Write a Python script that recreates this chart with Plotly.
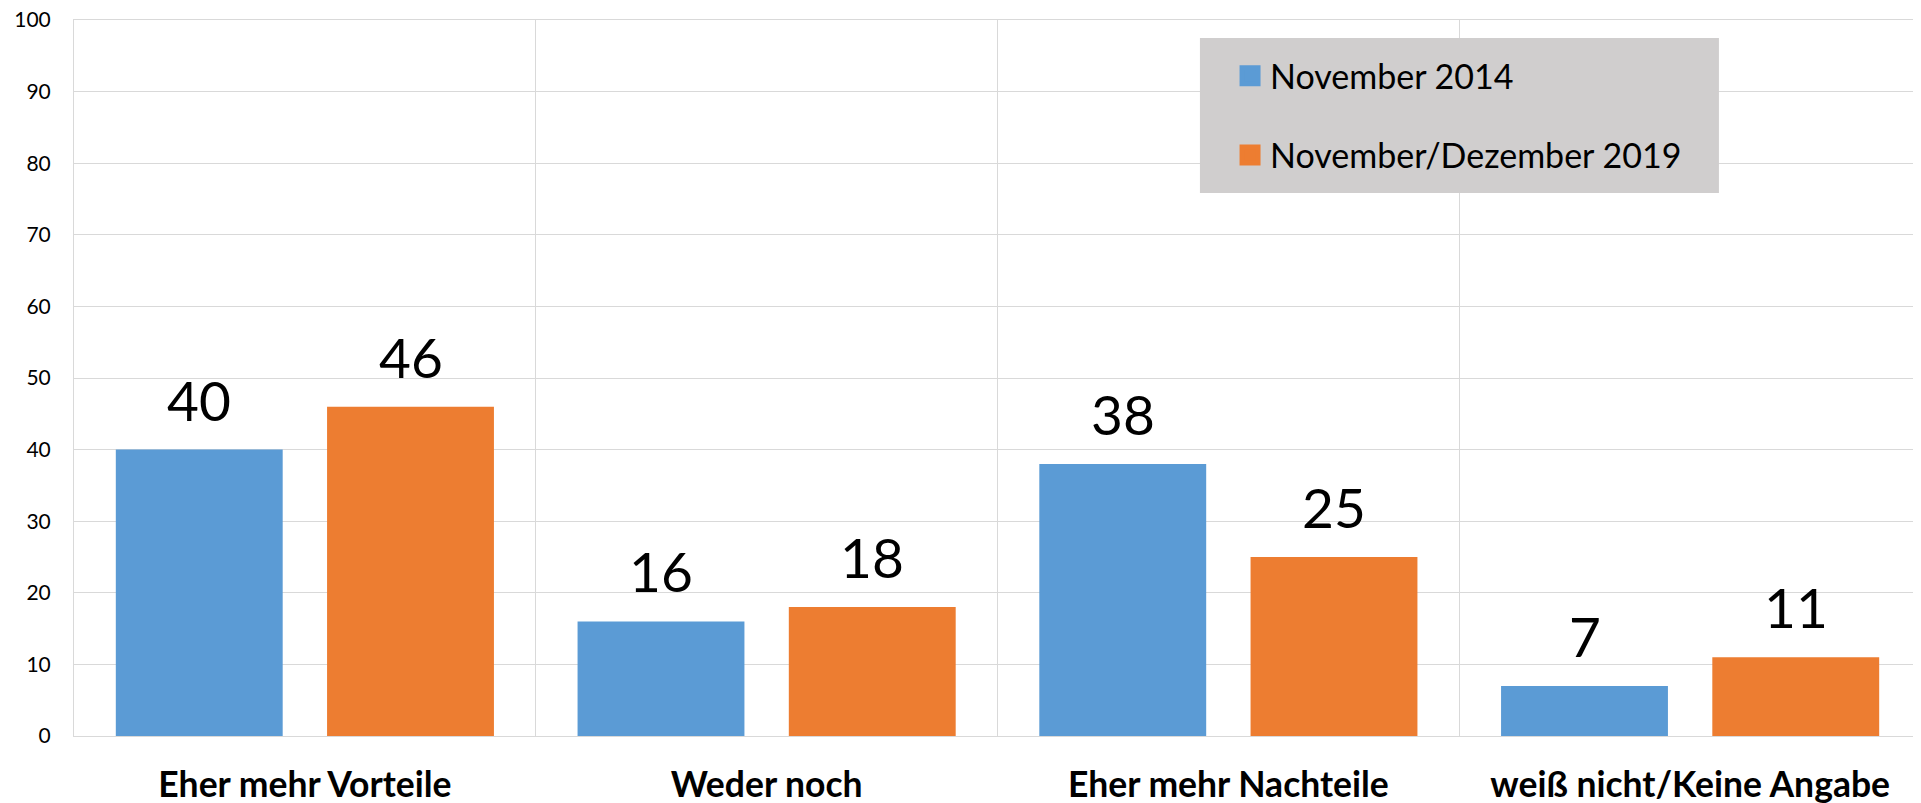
import plotly.graph_objects as go

categories = ["Eher mehr Vorteile", "Weder noch", "Eher mehr Nachteile", "weiß nicht/Keine Angabe"]
series_names = ["November 2014", "November/Dezember 2019"]
values_2014 = [40, 16, 38, 7]
values_2019 = [46, 18, 25, 11]
colors = ["#5B9BD5", "#ED7D31"]
y_ticks = [0, 10, 20, 30, 40, 50, 60, 70, 80, 90, 100]

FONT = "Lato"
GRID = "#D9D9D9"

# figure geometry (page body has an 8px margin)
FIG_W, FIG_H = 1913, 795
M_L, M_R, M_T, M_B = 66, 0, 12, 67
BARGAP, BARGROUPGAP = 0.085, 0.21

plot_w = FIG_W - M_L - M_R
cat_w = plot_w / len(categories)
slot_shift = cat_w * (1 - BARGAP) / 4  # px offset of each series' bar centre

fig = go.Figure()
annotations = []
for i, (name, vals, col) in enumerate(zip(series_names, [values_2014, values_2019], colors)):
    fig.add_trace(go.Bar(
        x=categories, y=vals, name=name,
        marker=dict(color=col, line=dict(width=0)),
        showlegend=False,
    ))
    # legend entry with a larger square swatch
    fig.add_trace(go.Scatter(
        x=[None], y=[None], mode="markers", name=name,
        legendgroup=name,
        marker=dict(symbol="square", size=16, color=col, line=dict(color=col, width=5)),
        showlegend=True,
    ))
    shift = -slot_shift if i == 0 else slot_shift
    for c, v in zip(categories, vals):
        annotations.append(dict(
            x=c, y=v, xref="x", yref="y", text=str(v), showarrow=False,
            xanchor="center", yanchor="bottom", xshift=shift, yshift=15,
            font=dict(family=FONT, size=55, color="#000000"),
        ))

fig.update_layout(
    width=FIG_W, height=FIG_H,
    margin=dict(l=M_L, r=M_R, t=M_T, b=M_B, autoexpand=False),
    paper_bgcolor="white", plot_bgcolor="white",
    barmode="group", bargap=BARGAP, bargroupgap=BARGROUPGAP,
    font=dict(family=FONT, color="#000000"),
    legend=dict(
        x=0.6259, y=0.962, xanchor="left", yanchor="top",
        bgcolor="rgba(0,0,0,0)", borderwidth=0,
        font=dict(family=FONT, size=34, color="#000000"),
        traceorder="grouped", tracegroupgap=32,
    ),
    shapes=[dict(
        type="rect", xref="paper", yref="paper",
        x0=0.6096, x1=0.8906, y0=0.7584, y1=0.9749,
        fillcolor="#D0CECE", line=dict(width=0), layer="above",
    )],
    annotations=annotations,
)
fig.update_xaxes(
    type="category", tickson="boundaries", automargin=False,
    showgrid=True, gridcolor=GRID, gridwidth=1,
    showline=True, linecolor=GRID, linewidth=1, mirror=True,
    ticks="",
    tickfont=dict(family=FONT, size=35.5, color="#000000", weight="bold"),
    ticklabelstandoff=17,
)
fig.update_yaxes(
    range=[0, 100], tickvals=y_ticks, automargin=False,
    showgrid=True, gridcolor=GRID, gridwidth=1,
    zeroline=True, zerolinecolor=GRID, zerolinewidth=1,
    showline=True, linecolor=GRID, linewidth=1,
    ticks="",
    tickfont=dict(family=FONT, size=21, color="#000000"),
    ticklabelstandoff=18, ticklabeloverflow="allow",
)

fig.write_html("out.html")
